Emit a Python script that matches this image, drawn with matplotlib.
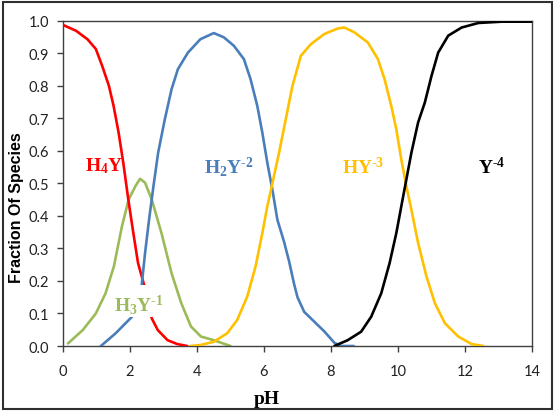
#!/usr/bin/env python3
# -*- coding: utf-8 -*-
"""
EDTA species distribution vs pH (fraction of each species).
Saves out.png (556x414).
"""

import matplotlib
matplotlib.use("Agg")
import matplotlib.pyplot as plt
from matplotlib.patches import Rectangle

# --------------------------
# data
# --------------------------

h4y_ph = [0.0, 0.39, 0.73, 0.98, 1.17, 1.37, 1.51, 1.66, 1.80, 1.95, 2.10, 2.24, 2.42,
          2.65, 2.83, 3.12, 3.41, 3.71]
h4y_y = [0.987, 0.969, 0.943, 0.913, 0.861, 0.80, 0.738, 0.656, 0.563, 0.45, 0.347, 0.255, 0.188,
         0.085, 0.049, 0.018, 0.006, 0.0]

h3y_ph = [0.15, 0.59, 0.98, 1.27, 1.52, 1.76, 1.96, 2.16, 2.30, 2.45, 2.65, 2.94, 3.24, 3.53,
          3.82, 4.12, 4.5, 5.0]
h3y_y = [0.008, 0.049, 0.10, 0.162, 0.245, 0.368, 0.45, 0.491, 0.514, 0.502, 0.45, 0.347, 0.224, 0.132,
         0.06, 0.029, 0.018, 0.0]

h2y_ph = [1.13, 1.57, 2.06, 2.35, 2.45, 2.57, 2.70, 2.84, 3.04, 3.24, 3.43, 3.73, 4.1, 4.5, 4.8,
          5.1, 5.4, 5.6, 5.8, 5.95, 6.1, 6.25, 6.4, 6.6, 6.75, 6.9, 7.0, 7.2, 7.5, 7.8, 8.1, 8.3, 8.68]
h2y_y = [0.0, 0.039, 0.09, 0.188, 0.286, 0.389, 0.491, 0.594, 0.697, 0.789, 0.851, 0.902, 0.943, 0.962, 0.949,
         0.923, 0.882, 0.82, 0.738, 0.656, 0.563, 0.481, 0.388, 0.32, 0.26, 0.19, 0.15, 0.105, 0.075, 0.045,
         0.01, 0.0, 0.0]

hy_ph = [3.8, 4.1, 4.5, 4.9, 5.2, 5.5, 5.75, 5.95, 6.1, 6.25, 6.45, 6.65, 6.85, 7.1, 7.4, 7.8, 8.2,
         8.4, 8.7, 9.1, 9.4, 9.6, 9.8, 9.95, 10.1, 10.25, 10.4, 10.6, 10.85, 11.1, 11.4, 11.8, 12.2, 12.55]
hy_y = [0.0, 0.003, 0.013, 0.039, 0.08, 0.152, 0.245, 0.347, 0.43, 0.50, 0.594, 0.697, 0.80, 0.892, 0.928,
        0.959, 0.976, 0.979, 0.964, 0.933, 0.882, 0.82, 0.738, 0.666, 0.573, 0.491, 0.419, 0.317, 0.214,
        0.132, 0.07, 0.029, 0.006, 0.0]

y4_ph = [8.1, 8.5, 8.9, 9.2, 9.5, 9.75, 9.95, 10.1, 10.25, 10.4, 10.6, 10.8, 11.0, 11.2, 11.5,
         11.9, 12.4, 13.1, 14.0]
y4_y = [0.0, 0.018, 0.044, 0.09, 0.162, 0.255, 0.347, 0.43, 0.512, 0.594, 0.687, 0.748, 0.83, 0.902, 0.954,
        0.979, 0.993, 0.997, 0.997]

RED = "#ff0000"
GREEN = "#9bbb59"
BLUE = "#4a7ebb"
ORANGE = "#ffc000"
BLACK = "#000000"

plt.rcParams["mathtext.fontset"] = "custom"
plt.rcParams["mathtext.rm"] = "Liberation Serif:bold"
plt.rcParams["mathtext.bf"] = "Liberation Serif:bold"
plt.rcParams["mathtext.it"] = "Liberation Serif:bold"

fig = plt.figure(figsize=(5.56, 4.14), dpi=100)
ax = fig.add_axes([0.1133, 0.1618, 0.8435, 0.7858])

lw = 1.9
style = dict(lw=lw, solid_joinstyle="round", solid_capstyle="round")
ax.plot(h4y_ph, h4y_y, color=RED, zorder=3, **style)
ax.plot(h3y_ph, h3y_y, color=GREEN, zorder=2, **style)
ax.plot(h2y_ph, h2y_y, color=BLUE, zorder=3, **style)
ax.plot(hy_ph, hy_y, color=ORANGE, zorder=3, **style)
ax.plot(y4_ph, y4_y, color=BLACK, zorder=3, **style)

# species labels
lab = dict(fontsize=14, ha="center", va="center", zorder=5)
ax.text(1.22, 0.557, r"$\mathbf{H_4Y}$", color=RED, **lab)
ax.text(4.95, 0.552, r"$\mathbf{H_2Y}^{\text{-2}}$", color=BLUE, **lab)
ax.text(8.95, 0.552, r"$\mathbf{HY}^{\text{-3}}$", color=ORANGE, **lab)
ax.text(12.8, 0.552, r"$\mathbf{Y}^{\text{-4}}$", color=BLACK, **lab)
# white box behind the H3Y label hides the lines there
ax.add_patch(Rectangle((1.7, 0.09), 1.15, 0.098, facecolor="white", edgecolor="none", zorder=4))
ax.text(2.27, 0.128, r"$\mathbf{H_3Y}^{\text{-1}}$", color=GREEN, **lab)

# axes
ax.set_xlim(0, 14)
ax.set_ylim(0, 1.0)
ax.set_xticks(range(0, 15, 2))
ax.set_yticks([i / 10 for i in range(11)])
ax.set_yticklabels([f"{i / 10:.1f}" for i in range(11)])
for s in ax.spines.values():
    s.set_color("#404040")
    s.set_linewidth(1.0)
ax.tick_params(direction="out", length=4, width=1, color="#404040",
               labelsize=10.5, labelcolor="#222222", pad=6)
for t in ax.get_xticklabels() + ax.get_yticklabels():
    t.set_family(["Lato", "DejaVu Sans"])
ax.tick_params(axis="x", pad=9)

ax.set_xlabel("pH", family="Liberation Serif", fontweight="bold", fontsize=14)
ax.xaxis.set_label_coords(0.435, -0.135)
ax.set_ylabel("Fraction Of Species", family="Liberation Sans", fontweight="bold", fontsize=11.5)
ax.yaxis.set_label_coords(-0.083, 0.43)

# frame around the whole chart
fig.patches.append(Rectangle((3 / 556, 4 / 414), 549 / 556, 407 / 414, transform=fig.transFigure,
                             fill=False, edgecolor="#303030", linewidth=1.5))

fig.savefig("out.png", dpi=100)
